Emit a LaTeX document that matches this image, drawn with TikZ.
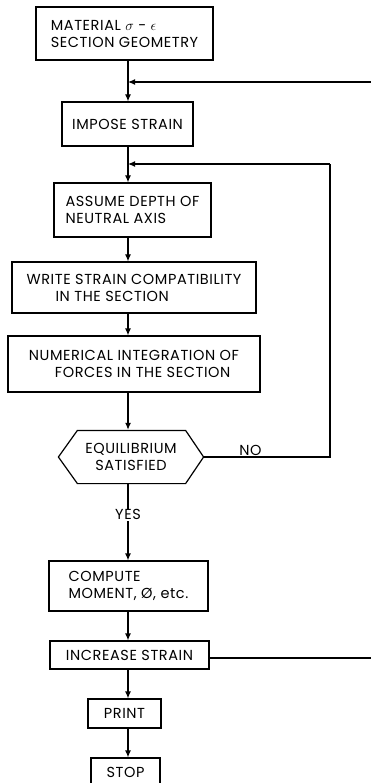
\documentclass[tikz,border=0pt]{standalone}
\usepackage{fontspec}
\setmainfont{Poppins}[LetterSpace=4]
\usetikzlibrary{arrows.meta}
\begin{document}
\begin{tikzpicture}[x=1pt,y=-1pt,
  box/.style={draw, line width=1.2pt, inner sep=0pt, align=left, font=\fontsize{14.5}{17}\selectfont},
  ln/.style={line width=1.2pt},
  arr/.style={ln, -{Latex[length=7pt,width=6pt]}},
  txt/.style={font=\fontsize{14.5}{17}\selectfont, inner sep=1pt}
]
\useasboundingbox (0,0) rectangle (371,783);
\coordinate (axis) at (128,0);
% boxes
\node[box, minimum width=177pt, minimum height=53pt] (b1) at (124.5,33.5) {MATERIAL $\sigma$ - $\epsilon$\\SECTION GEOMETRY};
\node[box, minimum width=131pt, minimum height=44pt] (b2) at (127.5,124) {IMPOSE STRAIN};
\node[box, minimum width=157pt, minimum height=54pt] (b3) at (132.5,210) {ASSUME DEPTH OF\\NEUTRAL AXIS};
\node[box, minimum width=244pt, minimum height=51pt] (b4) at (134,287.5) {WRITE STRAIN COMPATIBILITY\\\hspace*{29pt}IN THE SECTION};
\node[box, minimum width=252pt, minimum height=56pt] (b5) at (134,364) {NUMERICAL INTEGRATION OF\\\hspace*{26pt}FORCES IN THE SECTION};
\node[box, draw=none, align=center, minimum width=144pt, minimum height=52pt] (eq) at (131,457) {EQUILIBRIUM\\SATISFIED};
\draw[ln] (eq.west) -- ([xshift=19pt]eq.north west) -- ([xshift=-18pt]eq.north east) -- (eq.east) -- ([xshift=-18pt]eq.south east) -- ([xshift=19pt]eq.south west) -- cycle;
\node[box, minimum width=159pt, minimum height=50pt] (b6) at (128.5,586) {COMPUTE\\MOMENT, Ø, etc.};
\node[box, minimum width=159pt, minimum height=28pt] (b7) at (129.5,655) {INCREASE STRAIN};
\node[box, minimum width=73pt, minimum height=29pt] (pr) at (124.5,713.5) {PRINT};
\node[box, minimum width=69pt, minimum height=28pt] (st) at (125.5,772) {STOP};
% main flow
\draw[arr] (b1.south -| axis) -- (b2.north -| axis);
\draw[arr] (b2.south -| axis) -- (b3.north -| axis);
\draw[arr] (b3.south -| axis) -- (b4.north -| axis);
\draw[arr] (b4.south -| axis) -- (b5.north -| axis);
\draw[arr] (b5.south -| axis) -- ([yshift=0.6pt]eq.north -| axis);
\draw[arr] ([yshift=0.6pt]eq.south -| axis) -- node[txt, fill=white, pos=0.41] (yes) {YES} (b6.north -| axis);
\draw[arr] (b6.south -| axis) -- (b7.north -| axis);
\draw[arr] (b7.south -| axis) -- (pr.north -| axis);
\draw[arr] (pr.south -| axis) -- (st.north -| axis);
% loops
\coordinate (r1) at (374,82);
\coordinate (r2) at (330,164);
\draw[ln] ([yshift=-3pt]b7.east) -- ([yshift=-3pt]b7.east -| r1) -- (r1);
\draw[arr] (r1) -- (r1 -| axis);
\draw[ln] (eq.east) -- node[txt, above, pos=0.37] (no) {NO} (eq.east -| r2) -- (r2);
\draw[arr] (r2) -- (r2 -| axis);
\end{tikzpicture}
\end{document}
